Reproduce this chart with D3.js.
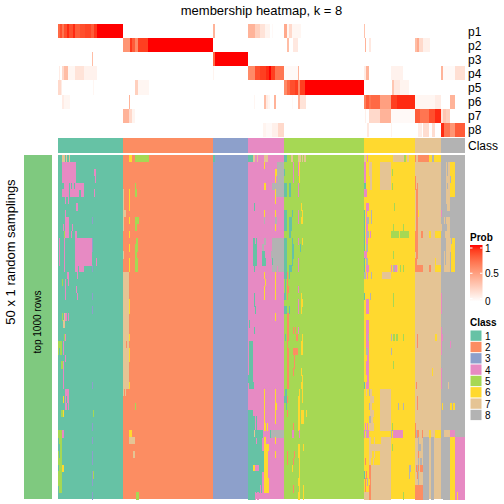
<!DOCTYPE html>
<html><head><meta charset="utf-8">
<script src="https://cdn.jsdelivr.net/npm/d3@7/dist/d3.min.js"></script>
<style>html,body{margin:0;padding:0;background:#fff}svg{display:block}text{font-family:"Liberation Sans",Arial,sans-serif;fill:#000}</style>
</head><body><svg id="c" width="504" height="504"></svg>
<script>
const classNames = [1,2,3,4,5,6,7,8];
const classColors = ["#66C2A5","#FC8D62","#8DA0CB","#E78AC3","#A6D854","#FFD92F","#E5C494","#B3B3B3"];
const classSizes = [65,90,35,36,80,51,26,24];
const probRows = ["p1","p2","p3","p4","p5","p6","p7","p8"];
const samplingCount = 50;
const probTicks = [0,0.5,1];
// membership runs per row: [first column, end column, probability]
const p1Runs = [[0,2,.75],[2,4,.85],[4,6,.7],[6,9,.85],[9,11,.95],[11,15,.85],[15,17,.95],[17,22,.8],[22,27,.85],[27,33,.88],[33,36,.8],[36,39,.92],[39,65,1],[155,157,.4],[190,197,.4],[197,202,.25],[202,207,.15],[207,212,.06],[214,215,.03],[226,229,.45],[229,231,.05],[231,234,.2],[234,243,.05],[306,307,.32]];
const p2Runs = [[65,72,.55],[72,74,.92],[74,77,.8],[77,80,.6],[80,90,.9],[90,155,1],[229,231,.35],[235,240,.12],[307,308,.4],[311,313,.12],[357,359,.35],[359,361,.45],[361,365,.2],[365,372,.08]];
const p3Runs = [[34,35,.35],[155,157,.75],[157,190,1]];
const p4Runs = [[1,2,.1],[4,6,.2],[6,10,.35],[10,17,.05],[17,26,.15],[26,39,.07],[155,156,.06],[190,197,.6],[197,202,.85],[202,208,.9],[208,211,.95],[211,213,1],[213,217,.9],[217,218,.7],[218,226,.7],[226,234,.03],[234,240,.03],[240,241,.4],[306,308,.1],[308,311,.4],[333,345,.07],[383,385,.4],[385,397,.03],[397,407,.17]];
const p5Runs = [[0,3,.2],[3,4,.1],[35,36,.05],[77,80,.25],[80,91,.05],[226,229,.6],[229,232,.75],[232,237,.85],[237,240,.9],[240,242,.6],[242,247,.9],[247,306,1],[334,336,.3],[336,342,.12],[342,351,.06]];
const p6Runs = [[4,6,.1],[6,12,.05],[71,72,.4],[196,197,.05],[206,208,.35],[208,210,.1],[210,212,.05],[216,218,.4],[234,235,.03],[240,242,.4],[242,248,.15],[306,308,.65],[308,311,.8],[311,313,.7],[313,322,.75],[322,333,.5],[333,339,.9],[339,357,.95],[357,377,.05],[377,383,.1],[392,397,.4]];
const p7Runs = [[65,71,.4],[71,74,.2],[74,77,.06],[307,308,.08],[311,322,.2],[322,333,.4],[333,357,.03],[357,362,.8],[362,371,.7],[371,377,.85],[377,383,.95],[383,385,.15],[385,388,.3],[388,392,.25]];
const p8Runs = [[205,208,.06],[208,214,.03],[214,220,.08],[220,226,.2],[309,311,.12],[333,334,.06],[360,364,.1],[365,371,.18],[374,377,.18],[383,386,.95],[386,392,.7],[392,397,.55],[397,407,.8]];
const probRuns = [p1Runs,p2Runs,p3Runs,p4Runs,p5Runs,p6Runs,p7Runs,p8Runs];
// per-sampling departures from the consensus class: [first column, end column, class]
const samplingRuns = [
/*0*/[[4,7,7],[8,9,7],[11,12,7],[71,74,6],[77,91,5],[155,157,1],[190,195,1],[195,197,7],[199,200,7],[206,210,7],[226,229,1],[233,235,7],[240,243,7],[244,245,7],[246,248,7],[306,308,7],[309,310,4],[335,346,7],[346,348,5],[349,351,7],[357,358,2],[360,371,2],[371,374,6],[374,376,8],[376,383,6]],
/*1*/[[4,18,4],[206,207,6],[219,226,8],[235,236,4],[240,241,4],[241,242,6],[306,308,4],[311,314,7],[322,333,7],[388,389,7],[390,392,7],[392,397,6]],
/*2*/[[4,18,4],[36,38,4],[217,219,6],[219,226,8],[226,227,1],[235,236,4],[240,241,4],[241,242,6],[306,308,4],[311,314,7],[322,333,7],[334,335,5],[388,389,7],[390,392,7],[392,397,6]],
/*3*/[[4,18,4],[37,38,4],[217,218,6],[219,226,8],[235,236,4],[241,242,6],[306,308,4],[312,314,7],[322,333,7],[357,358,2],[388,392,7],[393,397,6]],
/*4*/[[6,11,4],[12,13,4],[14,16,4],[17,26,4],[77,78,5],[206,208,6],[214,226,8],[226,229,1],[231,233,1],[240,241,4],[306,308,1],[312,314,7],[322,333,7],[334,335,5],[357,358,2],[359,360,2],[388,389,7],[390,392,7],[392,397,6]],
/*5*/[[4,11,4],[12,21,4],[23,26,4],[36,37,4],[65,66,7],[71,72,6],[77,79,5],[217,218,6],[218,226,8],[226,229,1],[231,233,1],[240,241,4],[306,309,4],[358,360,2],[388,392,7],[392,397,6]],
/*6*/[[7,8,4],[10,11,4],[65,66,7],[71,72,6],[217,218,6],[358,360,2],[388,392,7]],
/*7*/[[18,20,4],[65,66,7],[71,72,6],[196,197,1],[243,244,6],[308,311,4],[336,337,5],[358,360,2],[389,392,7]],
/*8*/[[7,8,4],[65,68,7],[206,207,6],[217,218,6],[226,229,1],[234,235,1],[240,241,4],[244,245,6],[306,307,1],[308,309,4],[313,314,8],[358,360,2],[360,361,6],[383,384,4]],
/*9*/[[7,11,4],[34,35,3],[65,66,7],[71,72,6],[77,81,5],[206,207,8],[217,219,8],[226,229,1],[231,234,1],[240,241,4],[243,245,6],[306,307,1],[308,309,4],[309,311,8],[313,314,8],[358,360,2],[386,387,7],[388,392,7]],
/*10*/[[5,6,4],[7,11,4],[14,15,4],[65,66,7],[77,79,5],[217,218,6],[226,229,1],[231,234,1],[306,307,1],[308,310,4],[335,336,5],[345,346,5],[358,360,2],[383,384,7],[389,392,7]],
/*11*/[[6,7,5],[7,11,4],[13,14,4],[17,19,4],[71,72,6],[231,233,1],[306,307,1],[308,309,4],[309,311,8],[312,313,4],[333,341,5],[342,351,5],[357,360,2],[363,365,2],[371,373,6],[377,383,6],[387,392,7]],
/*12*/[[1,2,4],[6,7,4],[17,34,4],[34,35,3],[78,80,5],[195,197,1],[198,199,1],[206,208,8],[214,226,8],[226,229,1],[234,235,1],[240,241,4],[244,245,6],[306,307,1],[308,310,4],[357,360,2],[388,393,7],[394,397,6]],
/*13*/[[1,2,4],[6,7,4],[17,34,4],[34,35,3],[71,72,6],[77,80,5],[195,199,1],[204,206,8],[214,226,8],[226,229,1],[234,236,1],[242,243,1],[306,307,1],[308,310,8],[357,360,2],[388,393,7],[393,397,6]],
/*14*/[[1,2,4],[6,7,4],[17,34,4],[65,66,7],[77,79,5],[195,199,1],[204,207,1],[213,226,8],[226,229,1],[234,236,1],[306,309,4],[335,336,5],[358,360,2],[386,387,7],[388,392,7],[393,397,6]],
/*15*/[[1,2,4],[6,7,4],[17,34,4],[38,39,4],[71,72,6],[77,80,5],[195,199,1],[204,208,1],[214,215,1],[215,226,8],[226,229,1],[234,235,1],[240,241,4],[306,307,1],[308,310,8],[357,359,2],[377,378,6],[386,387,7],[388,392,7],[393,397,6]],
/*16*/[[6,7,4],[17,20,4],[21,26,4],[34,35,3],[71,72,6],[77,80,5],[196,197,1],[214,219,8],[220,226,8],[226,229,1],[231,234,1],[240,241,4],[306,307,1],[308,311,4],[333,334,4],[335,337,8],[337,339,4],[339,340,7],[342,343,5],[345,346,5],[357,365,2],[371,373,2],[377,383,6],[386,392,7],[393,397,6]],
/*17*/[[9,11,4],[19,20,4],[65,71,7],[206,207,6],[217,218,6],[226,229,1],[229,230,2],[231,232,1],[306,308,8],[309,310,4],[313,314,8],[324,333,7]],
/*18*/[[4,5,5],[7,8,4],[10,11,4],[65,71,7],[207,208,6],[217,218,6],[227,228,1],[229,230,2]],
/*19*/[[7,8,4],[18,19,4],[65,71,7],[206,207,6],[217,218,6],[227,228,1],[229,231,2],[240,241,4]],
/*20*/[[7,8,4],[19,20,4],[34,35,3],[65,71,7],[196,197,1],[206,207,6],[217,218,6],[226,228,1],[229,230,2],[243,244,6],[306,307,1],[312,313,8],[335,336,5],[383,384,4]],
/*21*/[[65,71,7],[71,72,6],[196,197,1],[240,241,4],[243,245,6],[308,311,4],[335,336,5],[383,384,4]],
/*22*/[[34,35,3],[65,71,7],[71,72,6],[197,198,1],[226,229,1],[231,232,1],[240,241,4],[243,244,6],[308,311,4],[383,384,4]],
/*23*/[[4,5,5],[6,7,7],[7,9,4],[10,11,4],[65,71,7],[217,218,6],[229,231,2]],
/*24*/[[5,7,7],[65,71,7],[191,192,1],[229,231,2],[308,311,4]],
/*25*/[[65,71,7],[196,197,1],[229,231,2],[235,236,2],[237,238,2],[240,241,4],[308,311,4],[383,384,4]],
/*26*/[[6,7,5],[7,8,4],[65,71,7],[71,72,6],[227,228,1],[229,231,2],[238,240,2],[244,245,6],[308,310,4],[310,311,8],[333,334,8],[335,337,5],[338,340,5],[345,346,5],[359,360,2],[377,379,6],[383,384,4],[384,385,4]],
/*27*/[[0,4,5],[5,6,4],[65,68,7],[68,69,2],[69,71,7],[191,195,1],[229,230,2],[243,245,6],[308,311,4],[359,360,2],[383,384,4],[392,393,4]],
/*28*/[[0,1,5],[2,4,5],[5,6,4],[65,71,7],[71,72,6],[191,195,1],[229,231,2],[235,240,2],[243,245,6],[308,310,8],[310,311,4],[333,334,8],[383,384,4]],
/*29*/[[7,8,4],[65,71,7],[71,72,6],[191,195,1],[229,231,2],[236,237,2],[307,309,6],[309,311,4]],
/*30*/[[3,5,5],[5,6,4],[65,71,7],[190,191,4],[191,195,1],[229,231,2],[236,237,2],[308,311,4],[335,336,5]],
/*31*/[[5,6,4],[65,71,7],[190,191,4],[191,195,1],[229,231,2],[235,236,2],[243,244,6],[308,311,4],[374,375,6],[383,384,4]],
/*32*/[[5,6,4],[65,71,7],[190,195,1],[229,231,2],[244,245,6],[307,309,6],[309,311,4],[383,384,4]],
/*33*/[[5,6,4],[34,35,3],[65,71,7],[71,72,6],[191,196,1],[229,231,2],[243,245,6],[306,307,1],[308,311,4],[358,359,2],[383,384,4],[390,391,7]],
/*34*/[[7,11,4],[65,66,7],[67,68,7],[206,207,6],[217,218,6],[227,229,1],[241,242,6],[244,245,6],[308,309,7],[311,312,8],[312,314,7],[322,333,7]],
/*35*/[[5,6,6],[7,8,4],[9,11,4],[206,207,6],[217,218,6],[226,229,1],[229,230,2],[240,242,6],[244,245,6],[312,316,7],[322,333,7],[359,360,2]],
/*36*/[[7,9,4],[10,11,4],[77,78,5],[206,207,6],[217,219,6],[228,229,1],[240,242,6],[311,312,8],[312,314,7],[322,333,7],[340,341,8],[345,346,8],[359,360,2],[384,385,6],[392,394,6],[395,397,6]],
/*37*/[[3,5,5],[5,6,6],[35,36,5],[190,195,1],[206,207,6],[217,218,6],[229,230,2],[240,242,6],[243,246,6],[248,249,6],[312,316,7],[322,333,7]],
/*38*/[[190,197,1],[198,199,1],[206,207,6],[217,218,6],[240,242,6],[243,246,6],[311,313,8],[313,315,7],[322,333,7]],
/*39*/[[34,35,3],[190,197,1],[198,199,1],[206,208,6],[209,210,6],[235,236,2],[240,242,6],[307,308,4],[309,310,4],[311,316,7],[322,333,7],[334,335,5],[357,358,2]],
/*40*/[[0,4,5],[4,6,4],[71,74,6],[190,196,1],[196,197,7],[197,205,1],[212,213,1],[213,226,8],[234,236,4],[241,242,4],[306,307,4],[308,309,8],[309,311,4],[333,334,8],[335,345,4],[357,358,2],[358,359,8],[359,361,2],[364,365,2],[371,373,6],[377,383,6],[386,392,7],[392,397,4]],
/*41*/[[1,4,5],[34,35,3],[71,77,7],[190,198,1],[199,204,1],[206,208,6],[217,218,6],[311,313,7],[316,317,7],[323,333,7],[360,361,8],[365,371,8],[373,376,8],[385,392,8],[392,397,6],[397,407,4]],
/*42*/[[2,4,5],[190,204,1],[206,211,6],[240,242,6],[245,246,6],[311,323,7],[323,333,7],[334,335,5],[360,363,8],[365,371,8],[373,376,8],[385,392,8],[392,397,6],[397,407,4]],
/*43*/[[0,1,5],[2,4,5],[34,35,3],[75,77,7],[190,206,1],[206,210,6],[217,218,6],[229,230,2],[236,237,2],[240,242,6],[311,314,7],[316,317,7],[322,333,7],[360,361,2],[365,371,8],[373,376,8],[385,392,8],[392,397,6],[397,407,4]],
/*44*/[[0,4,5],[34,35,3],[190,206,1],[206,210,6],[229,230,2],[235,236,2],[241,242,6],[307,308,2],[311,313,7],[315,316,7],[322,333,7],[360,361,8],[362,364,8],[365,371,8],[373,376,8],[385,392,8],[392,397,6],[397,407,4]],
/*45*/[[1,4,5],[4,6,6],[190,195,1],[195,197,6],[197,201,4],[201,206,1],[206,210,6],[234,235,6],[241,242,6],[311,313,2],[313,333,7],[351,353,8],[358,359,2],[359,360,8],[360,361,2],[362,365,2],[365,371,8],[373,376,8],[385,392,8],[392,397,6],[397,407,4]],
/*46*/[[0,4,5],[34,35,3],[35,36,5],[190,204,1],[206,210,6],[241,242,6],[306,307,1],[308,309,2],[311,313,2],[313,333,7],[351,352,8],[359,360,2],[360,361,8],[365,371,8],[373,376,8],[385,392,8],[392,397,6],[397,407,4]],
/*47*/[[0,4,5],[34,35,3],[190,204,1],[206,211,6],[240,242,6],[307,308,2],[309,310,8],[312,313,2],[313,333,7],[360,361,8],[365,371,8],[373,376,8],[385,392,8],[392,397,6],[397,407,4]],
/*48*/[[1,4,5],[190,202,1],[202,203,4],[203,204,1],[206,211,6],[235,236,2],[241,242,6],[245,246,6],[307,308,2],[311,313,2],[313,333,7],[357,365,2],[365,371,8],[373,376,8],[385,392,8],[392,397,6],[397,407,4]],
/*49*/[[34,35,3],[78,81,5],[190,197,1],[197,198,4],[199,201,4],[240,242,6],[245,246,6],[306,311,7],[311,313,2],[313,333,7],[345,346,5],[357,365,2],[365,371,8],[373,376,8],[385,392,8],[392,397,6],[397,407,4],[399,400,6]]
];

const svg = d3.select("#c");
const nCols = d3.sum(classSizes);
const x = d3.scaleLinear().domain([0,nCols]).range([58,465]);
const yProb = d3.scaleBand().domain(probRows).range([24,136.8]);
const ySamp = d3.scaleBand().domain(d3.range(samplingCount)).range([155,499]);
const heat = d3.scaleLinear().domain([0,1]).range(["#ffffff","#ff0000"]).interpolate(d3.interpolateLab);
const starts = d3.cumsum([0,...classSizes]);
const cls = d3.scaleOrdinal().domain(classNames).range(classColors);

// membership heatmap
probRows.forEach((p,i)=>{
  svg.append("g").attr("shape-rendering","crispEdges").selectAll("rect").data(probRuns[i]).join("rect")
    .attr("x",d=>x(d[0])).attr("width",d=>x(d[1])-x(d[0]))
    .attr("y",yProb(p)).attr("height",yProb.bandwidth())
    .attr("fill",d=>heat(d[2]));
  svg.append("text").attr("x",468).attr("y",yProb(p)+yProb.bandwidth()/2+4.5)
    .attr("font-size",12).text(p);
});
// class annotation
svg.append("g").selectAll("rect").data(classNames).join("rect")
  .attr("x",(d,i)=>x(starts[i])).attr("width",(d,i)=>x(starts[i+1])-x(starts[i]))
  .attr("y",138).attr("height",15).attr("fill",d=>cls(d));
svg.append("text").attr("x",468).attr("y",150).attr("font-size",12).text("Class");
// samplings
svg.append("g").selectAll("rect").data(classNames).join("rect")
  .attr("x",(d,i)=>x(starts[i])).attr("width",(d,i)=>x(starts[i+1])-x(starts[i]))
  .attr("y",155).attr("height",344).attr("fill",d=>cls(d));
samplingRuns.forEach((runs,r)=>{
  svg.append("g").attr("shape-rendering","crispEdges").selectAll("rect").data(runs).join("rect")
    .attr("x",d=>x(d[0])).attr("width",d=>x(d[1])-x(d[0]))
    .attr("y",ySamp(r)).attr("height",ySamp.bandwidth()+.5)
    .attr("fill",d=>cls(d[2]));
});
// left strip
svg.append("rect").attr("x",24).attr("y",155).attr("width",28).attr("height",344).attr("fill","#7FC97F");
svg.append("text").attr("transform","translate(41,322) rotate(-90)").attr("text-anchor","middle").attr("font-size",10).text("top 1000 rows");
svg.append("text").attr("transform","translate(15,252) rotate(-90)").attr("text-anchor","middle").attr("font-size",13).text("50 x 1 random samplings");
svg.append("text").attr("x",261.5).attr("y",15).attr("text-anchor","middle").attr("font-size",13).text("membership heatmap, k = 8");

// legends
const defs = svg.append("defs");
const grad = defs.append("linearGradient").attr("id","pg").attr("x1",0).attr("x2",0).attr("y1",1).attr("y2",0);
d3.range(0,11).map(i=>i/10).forEach(t=>grad.append("stop").attr("offset",t).attr("stop-color",heat(t)));
svg.append("text").attr("x",470).attr("y",241).attr("font-size",10).attr("font-weight","bold").text("Prob");
const yLeg = d3.scaleLinear().domain([0,1]).range([301.5,245]);
svg.append("rect").attr("x",470).attr("y",245).attr("width",12.5).attr("height",56.5).attr("fill","url(#pg)");
probTicks.forEach(t=>{
  const yy = t===1?yLeg(t)+3:(t===0?yLeg(t)-3:yLeg(t));
  [[470,472.5],[480,482.5]].forEach(s=>svg.append("line").attr("x1",s[0]).attr("x2",s[1]).attr("y1",yy).attr("y2",yy).attr("stroke","#fff").attr("stroke-width",1));
  svg.append("text").attr("x",485).attr("y",yy+(t===0?6:3.5)).attr("font-size",10).text(t);
});
svg.append("text").attr("x",470).attr("y",325.5).attr("font-size",10).attr("font-weight","bold").text("Class");
const yCls = d3.scaleBand().domain(classNames).range([330,420.6]);
classNames.forEach(c=>{
  svg.append("rect").attr("x",470.5).attr("y",yCls(c)+.5).attr("width",11).attr("height",yCls.bandwidth()-1).attr("fill",cls(c));
  svg.append("text").attr("x",485).attr("y",yCls(c)+yCls.bandwidth()/2+4).attr("font-size",10).text(c);
});
</script></body></html>
